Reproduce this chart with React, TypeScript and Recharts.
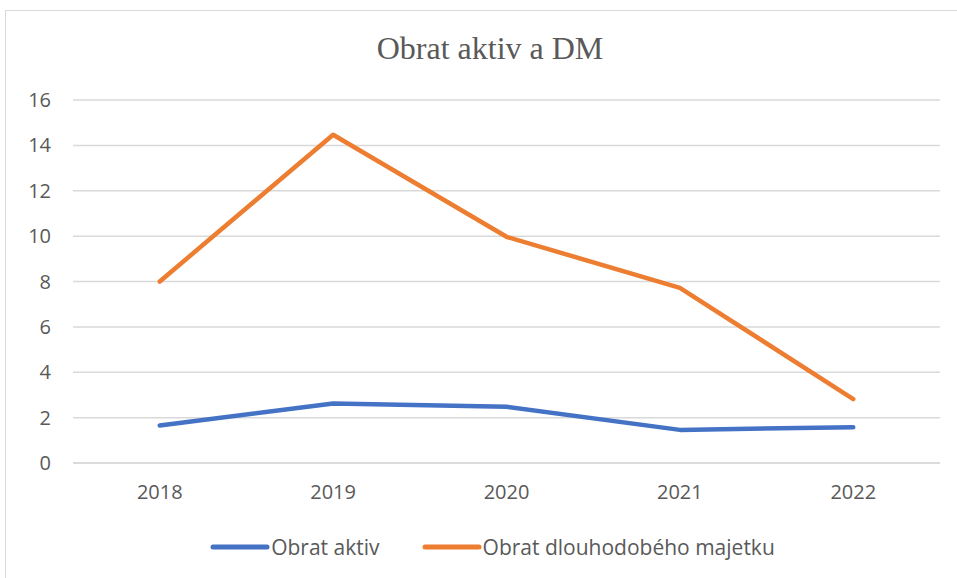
import { LineChart, Line, XAxis, YAxis, CartesianGrid, Legend } from "recharts";

const years = ["2018", "2019", "2020", "2021", "2022"];
const obratAktiv = [1.65, 2.62, 2.48, 1.46, 1.58];
const obratDM = [8.0, 14.47, 9.97, 7.72, 2.82];
const yTicks = [0, 2, 4, 6, 8, 10, 12, 14, 16];

const seriesNames = { aktiv: "Obrat aktiv", dm: "Obrat dlouhodobého majetku" } as const;
const colors = { aktiv: "#4472C4", dm: "#ED7D31" } as const;

const data = years.map((y, i) => ({ year: y, aktiv: obratAktiv[i], dm: obratDM[i] }));

const ink = "#595959";
const grid = "#D9D9D9";
const sans = "'Open Sans', sans-serif";

function ChartLegend() {
  const items = [
    { key: "aktiv", label: seriesNames.aktiv, color: colors.aktiv },
    { key: "dm", label: seriesNames.dm, color: colors.dm },
  ];
  return (
    <div style={{ display: "flex", justifyContent: "center", gap: 42, fontFamily: sans, fontSize: 21, color: ink }}>
      {items.map((it) => (
        <div key={it.key} style={{ display: "flex", alignItems: "center" }}>
          <svg width={60} height={10}>
            <line x1={3} y1={5} x2={57} y2={5} stroke={it.color} strokeWidth={5} strokeLinecap="round" />
          </svg>
          <span style={{ marginLeft: 1 }}>{it.label}</span>
        </div>
      ))}
    </div>
  );
}

export default function App() {
  return (
    <div style={{ position: "fixed", left: 0, top: 0, width: 957, height: 578, overflow: "hidden", background: "#fff" }}>
      <div
        style={{
          position: "absolute",
          left: 5,
          top: 10,
          width: 975,
          height: 600,
          border: `1px solid ${grid}`,
        }}
      />
      <div
        style={{
          position: "absolute",
          left: 5,
          top: 30,
          width: 970,
          textAlign: "center",
          fontFamily: "'Liberation Serif', serif",
          fontSize: 32,
          color: ink,
        }}
      >
        Obrat aktiv a DM
      </div>
      <div style={{ position: "absolute", left: 0, top: 0 }}>
        <LineChart width={957} height={578} data={data} margin={{ top: 100, right: 17, bottom: 85, left: 0 }}>
          <CartesianGrid vertical={false} stroke={grid} strokeWidth={1.5} />
          <XAxis
            dataKey="year"
            padding={{ left: 86.75, right: 86.75 }}
            height={30}
            axisLine={{ stroke: grid, strokeWidth: 1.5 }}
            tickLine={false}
            tickSize={0}
            tickMargin={22}
            tick={{ fontSize: 20, fill: ink, fontFamily: sans }}
          />
          <YAxis
            domain={[0, 16]}
            ticks={yTicks}
            width={73}
            axisLine={false}
            tickLine={false}
            tickSize={0}
            tickMargin={22}
            tick={{ fontSize: 20, fill: ink, fontFamily: sans }}
          />
          <Legend
            verticalAlign="middle"
            align="center"
            wrapperStyle={{ top: 533, left: 14, width: 957 }}
            content={() => <ChartLegend />}
          />
          <Line
            type="linear"
            dataKey="aktiv"
            name={seriesNames.aktiv}
            stroke={colors.aktiv}
            strokeWidth={4.5}
            strokeLinecap="round"
            strokeLinejoin="round"
            dot={false}
            isAnimationActive={false}
          />
          <Line
            type="linear"
            dataKey="dm"
            name={seriesNames.dm}
            stroke={colors.dm}
            strokeWidth={4.5}
            strokeLinecap="round"
            strokeLinejoin="round"
            dot={false}
            isAnimationActive={false}
          />
        </LineChart>
      </div>
    </div>
  );
}
